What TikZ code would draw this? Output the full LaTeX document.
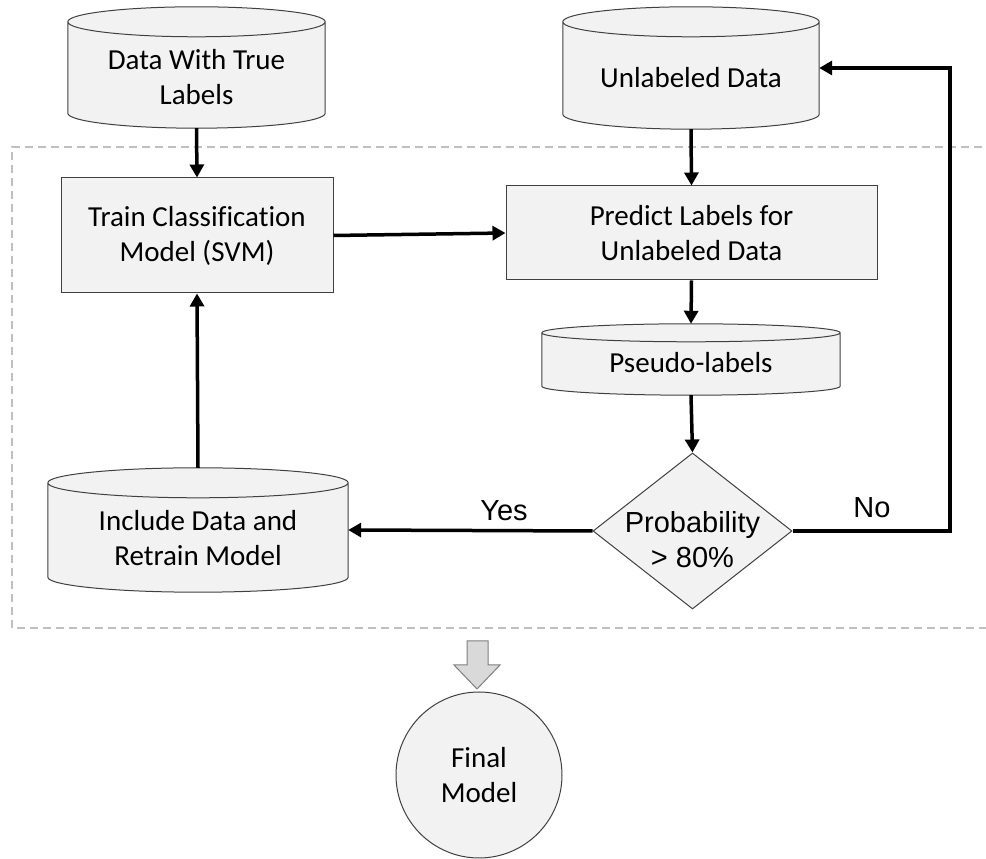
\documentclass[tikz,border=0pt]{standalone}
\usepackage{fontspec}
\setmainfont{Carlito}[Ligatures=NoCommon]
\newfontfamily\arialf{Liberation Sans}
\usetikzlibrary{shapes.geometric,arrows.meta,calc}
\definecolor{boxfill}{HTML}{F2F2F2}
\definecolor{boxline}{HTML}{404040}
\definecolor{dashc}{HTML}{BFBFBF}
\definecolor{blockfill}{HTML}{D9D9D9}
\definecolor{blockline}{HTML}{7F7F7F}
\newcommand{\drawcan}[2]{%
  \fill[boxfill] let \p1=(#1.north west), \p2=(#1.south east), \n1={(\x2-\x1)/2} in
    (\x1,\y1-#2) -- (\x1,\y2+#2) arc[start angle=180,end angle=360,x radius=\n1,y radius=#2]
    -- (\x2,\y1-#2) arc[start angle=0,end angle=180,x radius=\n1,y radius=#2] -- cycle;
  \draw[boxline, line width=1pt] let \p1=(#1.north west), \p2=(#1.south east), \n1={(\x2-\x1)/2} in
    (\x1,\y1-#2) -- (\x1,\y2+#2) arc[start angle=180,end angle=360,x radius=\n1,y radius=#2]
    -- (\x2,\y1-#2) arc[start angle=0,end angle=180,x radius=\n1,y radius=#2] -- cycle
    (\x1,\y1-#2) arc[start angle=180,end angle=360,x radius=\n1,y radius=#2];
}
\begin{document}
\begin{tikzpicture}[x=1pt,y=1pt,
  txt/.style={font=\fontsize{29}{35}\selectfont, align=center, inner sep=0pt},
  atxt/.style={font=\arialf\fontsize{29}{35}\selectfont, align=center, inner sep=0pt},
  procbox/.style={rectangle, draw=boxline, fill=boxfill, line width=1pt, inner sep=0pt,
    font=\fontsize{29}{35}\selectfont, align=center},
  canbox/.style={rectangle, inner sep=0pt},
  decbox/.style={diamond, draw=boxline, fill=boxfill, line width=1pt, inner sep=0pt},
  endbox/.style={circle, draw=boxline, fill=boxfill, line width=1pt, inner sep=0pt,
    font=\fontsize{29}{35}\selectfont, align=center},
  flow/.style={line width=3.5pt, -{Triangle[length=13pt,width=14pt]}},
  group/.style={dashc, line width=1.5pt, dash pattern=on 8pt off 5pt},
  blockarrow/.style={draw=blockline, fill=blockfill, line width=1pt}]
\useasboundingbox (0,0) rectangle (986,859);
\clip (0,0) rectangle (986,859);

\draw[group] (12,231) rectangle (1000,712);

% cylinders (named frames)
\node[canbox, minimum width=257pt, minimum height=121pt] (c1) at (196.5,791.5) {};
\node[canbox, minimum width=256pt, minimum height=122pt] (c2) at (691,791) {};
\node[canbox, minimum width=298pt, minimum height=71pt] (pl) at (691,499.5) {};
\node[canbox, minimum width=300pt, minimum height=124pt] (inc) at (198,329) {};
\drawcan{c1}{15pt}
\drawcan{c2}{15pt}
\drawcan{pl}{9pt}
\drawcan{inc}{15pt}
\node[txt] (c1t) at (196.5,781.5) {Data With True\\Labels};
\node[txt] (c2t) at (691,781) {Unlabeled Data};
\node[txt] (plt) at (691,496) {Pseudo-labels};
\node[txt] (inct) at (198,320.5) {Include Data and\\Retrain Model};

% process boxes
\node[procbox, minimum width=272pt, minimum height=115pt] (b1) at (197,623.5) {Train Classification\\Model (SVM)};
\node[procbox, minimum width=371pt, minimum height=94pt] (b2) at (691.5,626) {Predict Labels for\\Unlabeled Data};

% decision
\node[decbox, minimum width=199pt, minimum height=156pt] (dm) at (692.5,328) {};
\node[atxt] (dmt) at (692.5,319) {Probability\\> 80\%};

% final
\node[endbox, minimum size=166pt] (fm) at (479,84) {Final\\Model};

% connectors
\draw[flow] (c1.south) -- (b1.north);
\draw[flow] (c2.south) -- (b2.north);
\draw[flow] (b1.east) -- (b2.west);
\draw[flow] (b2.south) -- (pl.north);
\draw[flow] (pl.south) -- (dm.north);
\draw[flow] (inc.north) -- (b1.south);
\draw[flow] (dm.west) -- (inc.east);
\coordinate (nx) at (950,791);
\draw[flow] (dm.east) -| (nx) -- (c2.east);
\node[atxt] (yes) at (504,348) {Yes};
\node[atxt] (no) at (872,351) {No};

% block arrow to final model
\draw[blockarrow] (467,218) -- (488,218) -- (488,194) -- (500,194) -- (477,170) -- (454,194) -- (467,194) -- cycle;
\end{tikzpicture}
\end{document}
